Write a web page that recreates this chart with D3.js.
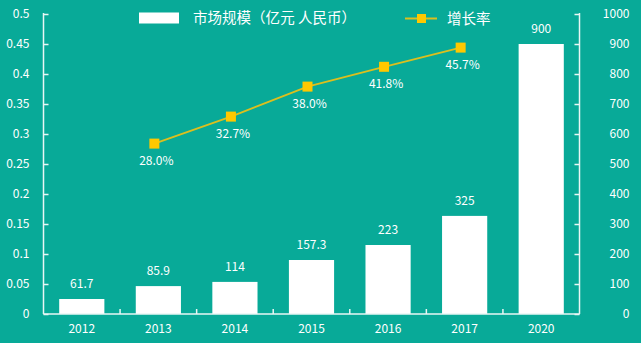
<!DOCTYPE html>
<html><head><meta charset="utf-8">
<script src="https://cdn.jsdelivr.net/npm/d3@7"></script>
<style>body{margin:0;background:#08aa98;}svg{display:block;}text{font-family:"Noto Sans CJK SC","DejaVu Sans",sans-serif;fill:#fff;}</style>
</head><body>
<script>
const categories = ["2012","2013","2014","2015","2016","2017","2020"];
const marketLabels = ["61.7","85.9","114","157.3","223","325","900"];
const marketBarHeights = [50,93,107,180,230,327,900];
const growthYears = ["2013","2014","2015","2016","2017"];
const growthLabels = ["28.0%","32.7%","38.0%","41.8%","45.7%"];
const growthPlotted = [0.284,0.329,0.379,0.412,0.444];
const leftTicks = [0,0.05,0.1,0.15,0.2,0.25,0.3,0.35,0.4,0.45,0.5];
const rightTicks = [0,100,200,300,400,500,600,700,800,900,1000];

const W=641,H=343, x0=43.5, x1=579.5, yTop=14, yBot=314;
const svg=d3.select("body").append("svg").attr("width",W).attr("height",H);
svg.append("rect").attr("width",W).attr("height",H).attr("fill","#08aa98");

const x=d3.scaleBand().domain(categories).range([x0,x1]).paddingInner(0.41).paddingOuter(0.205);
const yL=d3.scaleLinear().domain([0,0.5]).range([yBot,yTop]);
const yR=d3.scaleLinear().domain([0,1000]).range([yBot,yTop]);
const axisColor="#e8f6f4";
const fnt="'Noto Sans CJK SC',sans-serif";

// bars
svg.selectAll("rect.bar").data(categories).enter().append("rect")
 .attr("x",d=>x(d)).attr("width",x.bandwidth())
 .attr("y",(d,i)=>yR(marketBarHeights[i])).attr("height",(d,i)=>yBot-yR(marketBarHeights[i]))
 .attr("fill","#fff");
svg.selectAll("text.bl").data(categories).enter().append("text")
 .attr("x",d=>x(d)+x.bandwidth()/2).attr("y",(d,i)=>yR(marketBarHeights[i])-11)
 .attr("text-anchor","middle").attr("font-size",12).text((d,i)=>marketLabels[i]);

// left axis
const gl=svg.append("g").attr("transform",`translate(${x0},0)`);
gl.call(d3.axisRight(yL).tickValues(leftTicks).tickSize(5).tickFormat(d=>String(d)));
gl.select(".domain").remove();
gl.selectAll(".tick line").attr("stroke",axisColor).attr("stroke-width",1.5);
gl.selectAll(".tick text").attr("x",-14).attr("text-anchor","end").attr("font-size",12).attr("fill","#fff").style("font-family",fnt);
gl.append("line").attr("x1",0).attr("x2",0).attr("y1",yTop-1).attr("y2",yBot).attr("stroke",axisColor).attr("stroke-width",1.5);

// right axis
const gr=svg.append("g").attr("transform",`translate(${x1},0)`);
gr.call(d3.axisLeft(yR).tickValues(rightTicks).tickSize(5).tickFormat(d=>String(d)));
gr.select(".domain").remove();
gr.selectAll(".tick line").attr("stroke",axisColor).attr("stroke-width",1.5);
gr.selectAll(".tick text").attr("x",50).attr("text-anchor","end").attr("font-size",12).attr("fill","#fff").style("font-family",fnt);
gr.append("line").attr("x1",0).attr("x2",0).attr("y1",yTop-1).attr("y2",yBot).attr("stroke",axisColor).attr("stroke-width",1.5);

// x axis
const gx=svg.append("g").attr("transform",`translate(0,${yBot})`);
gx.append("line").attr("x1",x0).attr("x2",x1).attr("stroke",axisColor).attr("stroke-width",1.5);
const bounds=d3.range(1,categories.length).map(i=>x0+i*(x1-x0)/categories.length);
gx.selectAll("line.t").data(bounds).enter().append("line").attr("x1",d=>d).attr("x2",d=>d).attr("y1",0).attr("y2",-5).attr("stroke",axisColor).attr("stroke-width",1.5);
gx.selectAll("text").data(categories).enter().append("text")
 .attr("x",d=>x(d)+x.bandwidth()/2).attr("y",19).attr("text-anchor","middle").attr("font-size",12).text(d=>d);

// line
const cx=d=>x(d)+x.bandwidth()/2-4;
const line=d3.line().x((d,i)=>cx(growthYears[i])).y(d=>yL(d));
svg.append("path").datum(growthPlotted).attr("d",line).attr("fill","none").attr("stroke","#dcbf1e").attr("stroke-width",1.8);
svg.selectAll("rect.m").data(growthPlotted).enter().append("rect")
 .attr("x",(d,i)=>cx(growthYears[i])-5).attr("y",d=>yL(d)-5).attr("width",10).attr("height",10).attr("fill","#ffc800");
svg.selectAll("text.gl").data(growthPlotted).enter().append("text")
 .attr("x",(d,i)=>cx(growthYears[i])+2).attr("y",d=>yL(d)+21).attr("text-anchor","middle").attr("font-size",12)
 .text((d,i)=>growthLabels[i]);

// legend
svg.append("rect").attr("x",139).attr("y",12.5).attr("width",40).attr("height",11).attr("fill","#fff");
svg.append("text").attr("x",193).attr("y",23).attr("font-size",14.5).attr("textLength",163).attr("lengthAdjust","spacing").text("市场规模（亿元 人民币）");
svg.append("line").attr("x1",405).attr("x2",437).attr("y1",18.5).attr("y2",18.5).attr("stroke","#dcbf1e").attr("stroke-width",2);
svg.append("rect").attr("x",417).attr("y",14).attr("width",9).attr("height",9).attr("fill","#ffc800");
svg.append("text").attr("x",447).attr("y",24).attr("font-size",14.5).text("增长率");
</script>
</body></html>
